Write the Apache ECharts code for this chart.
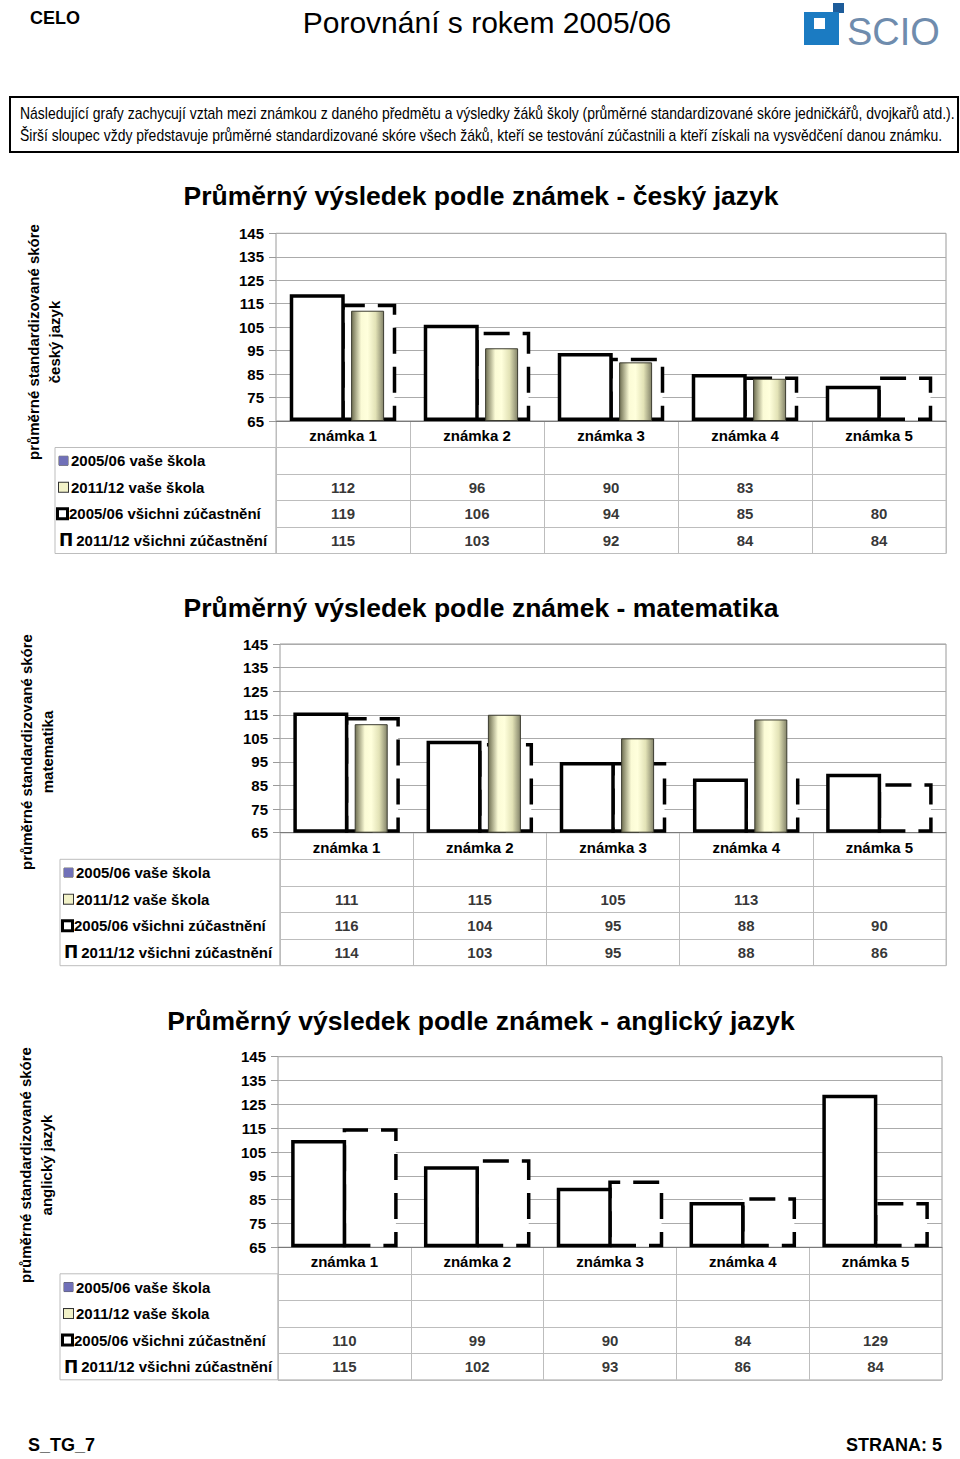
<!DOCTYPE html>
<html><head><meta charset="utf-8">
<script src="https://cdn.jsdelivr.net/npm/echarts@6/dist/echarts.min.js"></script>
<style>html,body{margin:0;padding:0;background:#fff}#c{width:960px;height:1459px}</style>
</head><body><div id="c"></div>
<script>
// ---- data ----
const categories = ['známka 1', 'známka 2', 'známka 3', 'známka 4', 'známka 5'];
const seriesNames = ['2005/06 vaše škola', '2011/12 vaše škola', '2005/06 všichni zúčastnění', '2011/12 všichni zúčastnění'];
const yMin = 65, yMax = 145, yStep = 10;

const cjSchool0506 = [null, null, null, null, null];
const cjSchool1112 = [112, 96, 90, 83, null];
const cjAll0506 = [119, 106, 94, 85, 80];
const cjAll1112 = [115, 103, 92, 84, 84];

const maSchool0506 = [null, null, null, null, null];
const maSchool1112 = [111, 115, 105, 113, null];
const maAll0506 = [116, 104, 95, 88, 90];
const maAll1112 = [114, 103, 95, 88, 86];

const ajSchool0506 = [null, null, null, null, null];
const ajSchool1112 = [null, null, null, null, null];
const ajAll0506 = [110, 99, 90, 84, 129];
const ajAll1112 = [115, 102, 93, 86, 84];

// ---- layout / style ----
const FONT = '"Liberation Sans", Arial, Helvetica, sans-serif';
const charts = [
  { title: 'Průměrný výsledek podle známek - český jazyk', yName: 'průměrné standardizované skóre\nčeský jazyk',
    data: [cjSchool0506, cjSchool1112, cjAll0506, cjAll1112],
    lay: { titleX: 481, titleY: 196, L: 276, R: 946, T: 233.3, A: 421, rowH: 26.5, tableLeft: 55, yNameX: 43.5, yNameY: 342 } },
  { title: 'Průměrný výsledek podle známek - matematika', yName: 'průměrné standardizované skóre\nmatematika',
    data: [maSchool0506, maSchool1112, maAll0506, maAll1112],
    lay: { titleX: 481, titleY: 608, L: 280, R: 946, T: 644, A: 832.7, rowH: 26.6, tableLeft: 60, yNameX: 36.5, yNameY: 752 } },
  { title: 'Průměrný výsledek podle známek - anglický jazyk', yName: 'průměrné standardizované skóre\nanglický jazyk',
    data: [ajSchool0506, ajSchool1112, ajAll0506, ajAll1112],
    lay: { titleX: 481, titleY: 1021, L: 278, R: 942, T: 1056.7, A: 1247.3, rowH: 26.5, tableLeft: 60, yNameX: 35.5, yNameY: 1165 } }
];

const WIDE = 55, BORDER = 3.5, THIN = 33;
const gold = { type: 'linear', x: 0, y: 0, x2: 1, y2: 0, colorStops: [
  { offset: 0, color: '#6f6f52' }, { offset: 0.3, color: '#fbfbd6' }, { offset: 0.5, color: '#ffffdc' },
  { offset: 0.75, color: '#e2e2b6' }, { offset: 1, color: '#84846a' } ] };

const richIcons = {
  i0: { width: 9, height: 9, backgroundColor: '#7070b8', borderColor: '#555', borderWidth: 0.5 },
  i1: { width: 9, height: 9, backgroundColor: '#f2f2c8', borderColor: '#333', borderWidth: 1 },
  i2: { width: 7, height: 7, backgroundColor: '#fff', borderColor: '#000', borderWidth: 3 },
  p: { fontFamily: '"DejaVu Sans"', fontWeight: 'bold', fontSize: 17, color: '#000' },
  t: { fontFamily: FONT, fontWeight: 'bold', fontSize: 15, color: '#000', padding: [0, 0, 0, 3] }
};
function rowLabel(v) {
  const i = seriesNames.indexOf(v);
  if (i === 3) return '{p|Π}{t|' + v + '}';
  return '{i' + i + '|}{t|' + v + '}';
}

const grids = [], xAxes = [], yAxes = [], series = [], graphics = [];
charts.forEach((c) => {
  const g = c.lay;
  const gi = grids.length, xi = xAxes.length, yi = yAxes.length;
  grids.push({ left: g.L, top: g.T, width: g.R - g.L, height: g.A - g.T, show: true, borderColor: '#9a9a9a', borderWidth: 1, containLabel: false, outerBoundsMode: 'none' });
  grids.push({ left: g.L, top: g.A, width: g.R - g.L, height: 5 * g.rowH, show: true, borderColor: '#bdbdbd', borderWidth: 1, containLabel: false, outerBoundsMode: 'none' });
  grids.push({ left: g.tableLeft, top: g.A + g.rowH, width: g.L - g.tableLeft, height: 4 * g.rowH, show: true, borderColor: '#bdbdbd', borderWidth: 1, containLabel: false, outerBoundsMode: 'none' });

  xAxes.push({ gridIndex: gi, type: 'category', data: categories, axisLine: { show: true, lineStyle: { color: '#7a7a7a', width: 1 } },
    axisTick: { show: false }, axisLabel: { interval: 0, margin: 7, fontSize: 15, fontWeight: 'bold', color: '#000', fontFamily: FONT }, splitLine: { show: false } });
  xAxes.push({ gridIndex: gi, type: 'category', data: categories, show: false });
  xAxes.push({ gridIndex: gi + 1, type: 'category', data: categories, axisLine: { show: false }, axisTick: { show: false, interval: 0 },
    axisLabel: { show: false, interval: 0 }, splitLine: { show: true, interval: 0, lineStyle: { color: '#bdbdbd' } } });
  xAxes.push({ gridIndex: gi + 2, type: 'value', show: false });

  yAxes.push({ gridIndex: gi, type: 'value', min: yMin, max: yMax, interval: yStep, startValue: yMin,
    axisLine: { show: false }, axisTick: { show: true, length: 7, lineStyle: { color: '#9a9a9a' } },
    axisLabel: { margin: 12, fontSize: 15, fontWeight: 'bold', color: '#000', fontFamily: FONT },
    splitLine: { show: true, lineStyle: { color: '#ababab', width: 1 } } });
  yAxes.push({ gridIndex: gi + 1, type: 'category', data: [''].concat(seriesNames), inverse: true, axisLine: { show: false },
    axisTick: { show: false, interval: 0 }, axisLabel: { show: false, interval: 0 }, splitLine: { show: true, interval: 0, lineStyle: { color: '#bdbdbd' } } });
  yAxes.push({ gridIndex: gi + 2, type: 'category', data: seriesNames, inverse: true, axisLine: { show: false }, axisTick: { show: false },
    axisLabel: { inside: true, interval: 0, margin: 4, formatter: rowLabel, rich: richIcons }, splitLine: { show: false } });

  const [s0506, s1112, a0506, a1112] = c.data;
  const common = { type: 'bar', silent: true, clip: false, animation: false, emphasis: { disabled: true } };
  const wideGap = (-BORDER / WIDE * 100).toFixed(2) + '%';
  const thinGap = ((2 * 24.6 - THIN) / THIN * 100).toFixed(2) + '%';
  series.push(Object.assign({}, common, { name: seriesNames[2], xAxisIndex: xi, yAxisIndex: yi, data: a0506, barWidth: WIDE, barGap: wideGap, z: 3,
    itemStyle: { color: '#fff', borderColor: '#000', borderWidth: BORDER } }));
  series.push(Object.assign({}, common, { name: seriesNames[3], xAxisIndex: xi, yAxisIndex: yi, data: a1112, barWidth: WIDE, barGap: wideGap, z: 2,
    itemStyle: { color: '#fff', borderColor: '#000', borderWidth: BORDER, borderType: [26, 13] } }));
  series.push(Object.assign({}, common, { name: seriesNames[0], xAxisIndex: xi + 1, yAxisIndex: yi, data: s0506, barWidth: THIN, barGap: thinGap, z: 4,
    itemStyle: { color: '#7070b8', borderColor: '#333', borderWidth: 1 } }));
  series.push(Object.assign({}, common, { name: seriesNames[1], xAxisIndex: xi + 1, yAxisIndex: yi, data: s1112, barWidth: THIN, barGap: thinGap, z: 4,
    itemStyle: { color: gold, borderColor: '#3c3c30', borderWidth: 1 } }));

  const cells = [];
  c.data.forEach((arr, si) => arr.forEach((v, i) => { if (v != null) cells.push([categories[i], seriesNames[si], v]); }));
  series.push({ type: 'scatter', xAxisIndex: xi + 2, yAxisIndex: yi + 1, data: cells, symbolSize: 0, silent: true, animation: false,
    label: { show: true, position: 'inside', formatter: (p) => String(p.value[2]), fontSize: 15, fontWeight: 'bold', color: '#000', fontFamily: FONT } });

  graphics.push({ type: 'text', x: g.titleX, y: g.titleY, style: { text: c.title, font: 'bold 26.5px ' + FONT, fill: '#000', textAlign: 'center', textVerticalAlign: 'middle' } });
  graphics.push({ type: 'text', x: g.yNameX, y: g.yNameY, rotation: Math.PI / 2,
    style: { text: c.yName, font: 'bold 15px ' + FONT, fill: '#000', textAlign: 'center', textVerticalAlign: 'middle', lineHeight: 21 } });
});

// condensed note text: Arial-like font squeezed horizontally to the reference line length
const NOTE_FONT = '16px "Liberation Sans"';
const mctx = document.createElement('canvas').getContext('2d');
function squeeze(text, target) { mctx.font = NOTE_FONT; return target / mctx.measureText(text).width; }
const note1 = 'Následující grafy zachycují vztah mezi známkou z daného předmětu a výsledky žáků školy (průměrné standardizované skóre jedničkářů, dvojkařů atd.).';
const note2 = 'Širší sloupec vždy představuje průměrné standardizované skóre všech žáků, kteří se testování zúčastnili a kteří získali na vysvědčení danou známku.';

graphics.push(
  { type: 'text', x: 30, y: 18, style: { text: 'CELO', font: 'bold 18px ' + FONT, fill: '#000', textVerticalAlign: 'middle' } },
  { type: 'text', x: 487, y: 22, style: { text: 'Porovnání s rokem 2005/06', font: '30px ' + FONT, fill: '#000', textAlign: 'center', textVerticalAlign: 'middle' } },
  { type: 'rect', shape: { x: 833, y: 3, width: 11, height: 10 }, style: { fill: '#1d5c9a' } },
  { type: 'rect', shape: { x: 804, y: 12, width: 35, height: 33 }, style: { fill: '#1b7bc2' } },
  { type: 'rect', shape: { x: 814, y: 18, width: 11, height: 11 }, style: { fill: '#ffffff' } },
  { type: 'text', x: 847, y: 32, style: { text: 'SCIO', font: '38px ' + FONT, fill: '#6f8cad', textVerticalAlign: 'middle' } },
  { type: 'rect', shape: { x: 10, y: 97, width: 948, height: 55 }, style: { fill: 'none', stroke: '#000', lineWidth: 2 } },
  { type: 'text', x: 20, y: 113, scaleX: squeeze(note1, 935), style: { text: note1, font: NOTE_FONT, fill: '#000', textVerticalAlign: 'middle' } },
  { type: 'text', x: 20, y: 135, scaleX: squeeze(note2, 923), style: { text: note2, font: NOTE_FONT, fill: '#000', textVerticalAlign: 'middle' } },
  { type: 'text', x: 28, y: 1445, style: { text: 'S_TG_7', font: 'bold 18px ' + FONT, fill: '#000', textVerticalAlign: 'middle' } },
  { type: 'text', x: 942, y: 1445, style: { text: 'STRANA: 5', font: 'bold 18px ' + FONT, fill: '#000', textAlign: 'right', textVerticalAlign: 'middle' } }
);

const chart = echarts.init(document.getElementById('c'), null, { renderer: 'svg' });
chart.setOption({
  backgroundColor: '#fff', animation: false,
  textStyle: { fontFamily: FONT },
  grid: grids, xAxis: xAxes, yAxis: yAxes, series: series,
  graphic: { elements: graphics }
});
</script></body></html>
